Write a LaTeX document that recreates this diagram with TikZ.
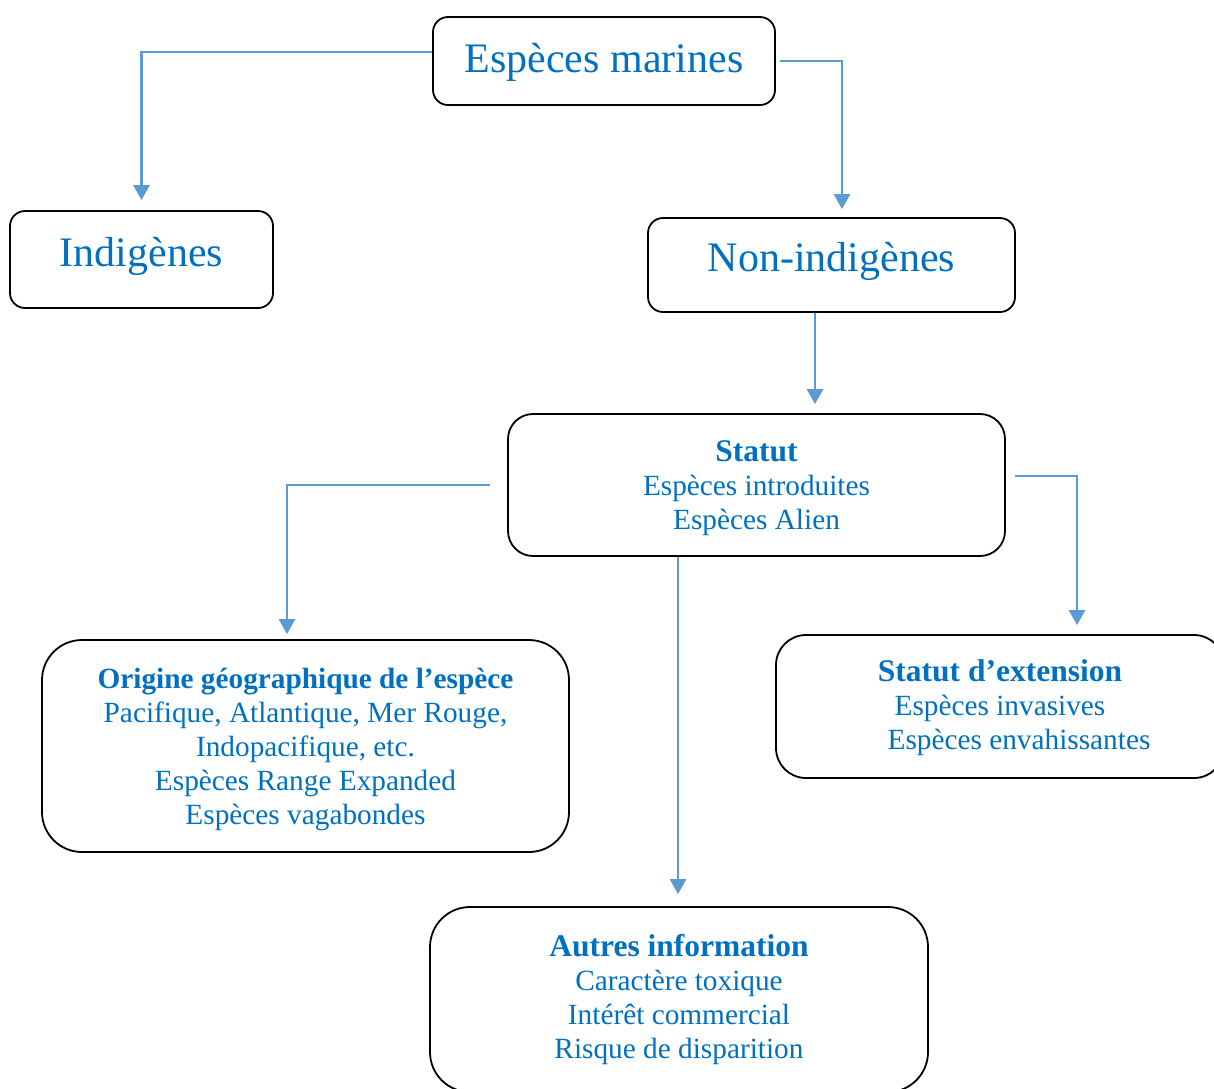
\documentclass[tikz,border=0pt]{standalone}
\usepackage{fontspec}
\setmainfont{Liberation Serif}
\usetikzlibrary{arrows.meta}
\definecolor{txtblue}{HTML}{0070C0}
\definecolor{arrblue}{HTML}{5B9BD5}
\tikzset{
  box/.style={draw=black, line width=1.8pt, rectangle, inner sep=0pt},
  lbl/.style={text=txtblue, align=center, inner sep=0pt},
  bigtxt/.style={font=\fontsize{42}{48}\selectfont},
  smalltxt/.style={font=\fontsize{29.3}{34}\selectfont},
  arr/.style={draw=arrblue, line width=2.7pt, -{Triangle[length=15pt,width=16pt]}}
}
\newcommand{\hd}[1]{{\bfseries\fontsize{31.5}{34}\selectfont #1}}
\newcommand{\hdsmall}[1]{{\bfseries\fontsize{29.3}{34}\selectfont #1}}
\begin{document}
\begin{tikzpicture}[x=1pt,y=-1pt]
\useasboundingbox (0,0) rectangle (1214,1088);
\clip (0,0) rectangle (1214,1088);
\fill[white] (0,0) rectangle (1214,1088);

\node[box, rounded corners=15pt, minimum width=342pt, minimum height=88pt] (mar) at (604,61) {};
\node[lbl, bigtxt] (martxt) at ([yshift=-1pt]mar.center) {Espèces marines};

\node[box, rounded corners=15pt, minimum width=263pt, minimum height=97pt] (ind) at (141.5,259.5) {};
\node[lbl, bigtxt] (indtxt) at ([yshift=3pt]ind.center) {Indigènes};

\node[box, rounded corners=15pt, minimum width=367pt, minimum height=94pt] (non) at (831.5,265) {};
\node[lbl, bigtxt] (nontxt) at ([yshift=4pt]non.center) {Non-indigènes};

\node[box, rounded corners=25pt, minimum width=497pt, minimum height=142pt] (stat) at (756.5,485) {};
\node[lbl, smalltxt] (stattxt) at ([yshift=-3pt]stat.center)
  {\hd{Statut}\\Espèces introduites\\Espèces Alien};

\node[box, rounded corners=40pt, minimum width=527pt, minimum height=212pt] (ori) at (305.5,746) {};
\node[lbl, smalltxt] (oritxt) at ([yshift=-3pt]ori.center)
  {\hdsmall{Origine géographique de l’espèce}\\Pacifique, Atlantique, Mer Rouge,\\Indopacifique, etc.\\Espèces Range Expanded\\Espèces vagabondes};

\node[box, rounded corners=30pt, minimum width=448pt, minimum height=143pt] (ext) at (1000,706.5) {};
\node[lbl, smalltxt] (exttxt) at ([yshift=-1pt]ext.center)
  {\hd{Statut d’extension}\\Espèces invasives\\\hspace*{38pt}Espèces envahissantes};

\node[box, rounded corners=40pt, minimum width=498pt, minimum height=185pt] (aut) at (679,999.5) {};
\node[lbl, smalltxt] (auttxt) at (aut.center)
  {\hd{Autres information}\\Caractère toxique\\Intérêt commercial\\Risque de disparition};

\draw[arr, shorten >=10pt] ([yshift=9pt]mar.west) -| (ind.north);
\draw[arr, shorten >=8pt] ([xshift=4pt]mar.east) -| ([xshift=10.5pt]non.north);
\draw[arr, shorten >=9pt] ([xshift=-16.5pt]non.south) -- ([xshift=-16.5pt]non.south |- stat.north);
\draw[arr, shorten >=5pt] ([xshift=-17pt]stat.west) -| ([xshift=-18.5pt]ori.north);
\draw[arr, shorten >=9pt] ([xshift=9pt,yshift=9pt]stat.east) -| ([xshift=77pt]ext.north);
\draw[arr, shorten >=12pt] ([xshift=-78.5pt]stat.south) -- ([xshift=-78.5pt]stat.south |- aut.north);
\end{tikzpicture}
\end{document}
